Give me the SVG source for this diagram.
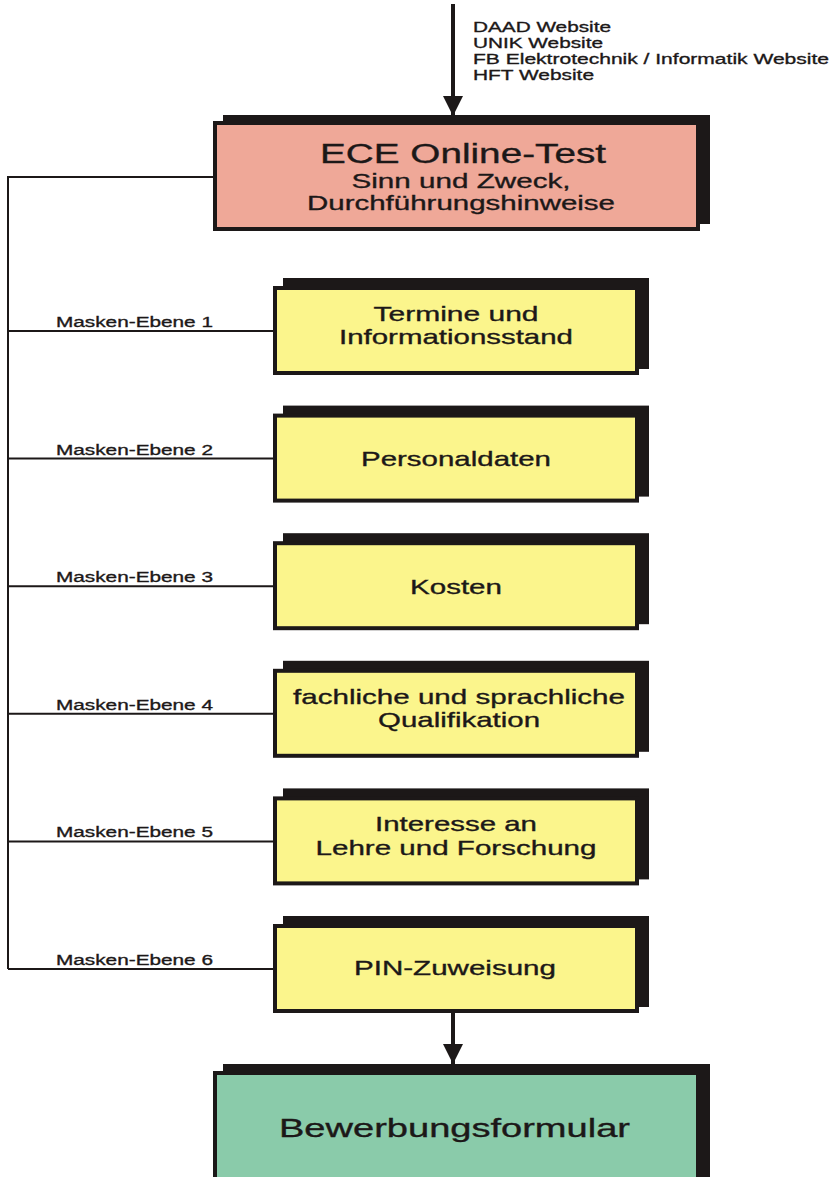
<svg xmlns="http://www.w3.org/2000/svg" width="836" height="1177" viewBox="0 0 836 1177">
<defs>
<style>
.bg{fill:#ffffff}
.sh{fill:#1c1818}
.pink{fill:#efa898;stroke:#1c1818;stroke-width:4}
.yel{fill:#fbf58c;stroke:#1c1818;stroke-width:4}
.grn{fill:#8acbaa;stroke:#1c1818;stroke-width:4}
.t{font-family:"Liberation Sans",Arial,sans-serif;fill:#1c1818;stroke:#1c1818;stroke-width:0.35}
.lbl{font-size:15.5px}
.box{font-size:21px;text-anchor:middle}
.ln{stroke:#1c1818;stroke-width:2;fill:none}
.arr{stroke:#1c1818;stroke-width:4;fill:none}
</style>
<marker id="ah" markerWidth="5" markerHeight="5" refX="5" refY="2.5" orient="auto" markerUnits="strokeWidth">
<path d="M0,0 L5,2.5 L0,5 Z" fill="#1c1818"/>
</marker>
</defs>
<rect class="bg" x="0" y="0" width="836" height="1177"/>

<g id="sources">
<text class="t lbl" x="473" y="32" textLength="138" lengthAdjust="spacingAndGlyphs">DAAD Website</text>
<text class="t lbl" x="473" y="48" textLength="130" lengthAdjust="spacingAndGlyphs">UNIK Website</text>
<text class="t lbl" x="473" y="64" textLength="356" lengthAdjust="spacingAndGlyphs">FB Elektrotechnik / Informatik Website</text>
<text class="t lbl" x="473" y="80" textLength="121" lengthAdjust="spacingAndGlyphs">HFT Website</text>
</g>

<g id="connectors">
<line class="arr" x1="453" y1="4" x2="453" y2="116" marker-end="url(#ah)"/>
<line class="arr" x1="453" y1="1013" x2="453" y2="1064" marker-end="url(#ah)"/>
<polyline class="ln" points="213,177 8,177 8,969"/>
<line class="ln" x1="8" y1="331" x2="273" y2="331"/>
<line class="ln" x1="8" y1="458.6" x2="273" y2="458.6"/>
<line class="ln" x1="8" y1="586.2" x2="273" y2="586.2"/>
<line class="ln" x1="8" y1="713.8" x2="273" y2="713.8"/>
<line class="ln" x1="8" y1="841.4" x2="273" y2="841.4"/>
<line class="ln" x1="8" y1="969" x2="273" y2="969"/>
<text class="t lbl" x="56" y="327" textLength="157" lengthAdjust="spacingAndGlyphs">Masken-Ebene 1</text>
<text class="t lbl" x="56" y="454.6" textLength="157" lengthAdjust="spacingAndGlyphs">Masken-Ebene 2</text>
<text class="t lbl" x="56" y="582.2" textLength="157" lengthAdjust="spacingAndGlyphs">Masken-Ebene 3</text>
<text class="t lbl" x="56" y="709.8" textLength="157" lengthAdjust="spacingAndGlyphs">Masken-Ebene 4</text>
<text class="t lbl" x="56" y="837.4" textLength="157" lengthAdjust="spacingAndGlyphs">Masken-Ebene 5</text>
<text class="t lbl" x="56" y="965" textLength="157" lengthAdjust="spacingAndGlyphs">Masken-Ebene 6</text>
</g>

<g id="ece">
<rect class="sh" x="223" y="115" width="487" height="109"/>
<rect class="pink" x="215" y="123" width="483" height="106"/>
<text class="t box" x="463" y="163" style="font-size:27px" textLength="286" lengthAdjust="spacingAndGlyphs">ECE Online-Test</text>
<text class="t box" x="461" y="188" textLength="219" lengthAdjust="spacingAndGlyphs">Sinn und Zweck,</text>
<text class="t box" x="461" y="210" textLength="308" lengthAdjust="spacingAndGlyphs">Durchführungshinweise</text>
</g>

<g id="ebene1">
<rect class="sh" x="283" y="278" width="366" height="91"/>
<rect class="yel" x="275" y="288" width="362" height="85"/>
<text class="t box" x="456" y="321" textLength="165" lengthAdjust="spacingAndGlyphs">Termine und</text>
<text class="t box" x="456" y="344" textLength="234" lengthAdjust="spacingAndGlyphs">Informationsstand</text>
</g>

<g id="ebene2">
<rect class="sh" x="283" y="405.6" width="366" height="91"/>
<rect class="yel" x="275" y="415.6" width="362" height="85"/>
<text class="t box" x="456" y="466" textLength="190" lengthAdjust="spacingAndGlyphs">Personaldaten</text>
</g>

<g id="ebene3">
<rect class="sh" x="283" y="533.2" width="366" height="91"/>
<rect class="yel" x="275" y="543.2" width="362" height="85"/>
<text class="t box" x="456" y="593.5" textLength="92" lengthAdjust="spacingAndGlyphs">Kosten</text>
</g>

<g id="ebene4">
<rect class="sh" x="283" y="660.8" width="366" height="91"/>
<rect class="yel" x="275" y="670.8" width="362" height="85"/>
<text class="t box" x="459" y="704" textLength="332" lengthAdjust="spacingAndGlyphs">fachliche und sprachliche</text>
<text class="t box" x="459" y="727" textLength="162" lengthAdjust="spacingAndGlyphs">Qualifikation</text>
</g>

<g id="ebene5">
<rect class="sh" x="283" y="788.4" width="366" height="91"/>
<rect class="yel" x="275" y="798.4" width="362" height="85"/>
<text class="t box" x="456" y="831" textLength="162" lengthAdjust="spacingAndGlyphs">Interesse an</text>
<text class="t box" x="456" y="855" textLength="281" lengthAdjust="spacingAndGlyphs">Lehre und Forschung</text>
</g>

<g id="ebene6">
<rect class="sh" x="283" y="916" width="366" height="91"/>
<rect class="yel" x="275" y="926" width="362" height="85"/>
<text class="t box" x="455" y="975" textLength="202" lengthAdjust="spacingAndGlyphs">PIN-Zuweisung</text>
</g>

<g id="bewerbung">
<rect class="sh" x="223" y="1064" width="487" height="130"/>
<rect class="grn" x="215" y="1073" width="483" height="130"/>
<text class="t box" x="454.5" y="1137" style="font-size:25px" textLength="351" lengthAdjust="spacingAndGlyphs">Bewerbungsformular</text>
</g>
</svg>
